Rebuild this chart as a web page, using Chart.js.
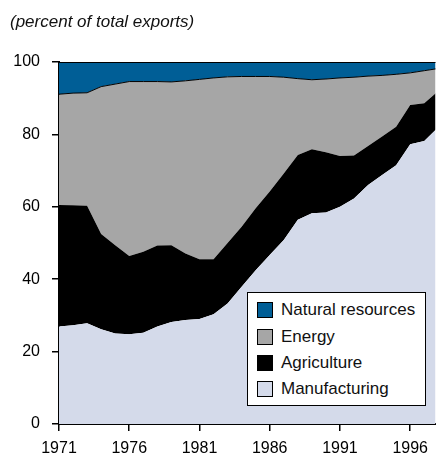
<!DOCTYPE html>
<html>
<head>
<meta charset="utf-8">
<script src="https://cdn.jsdelivr.net/npm/chart.js@4.4.1/dist/chart.umd.min.js"></script>
<style>
  html, body { margin: 0; padding: 0; background: #fff; overflow: hidden; }
  #wrap { position: relative; width: 436px; height: 454px; }
  #legend {
    position: absolute; left: 247px; top: 292px; width: 177px; height: 112px;
    border: 1px solid #000; background: #fff;
    font-family: "Liberation Sans", Arial, sans-serif; font-size: 17px; color: #111;
  }
  .item { position: absolute; left: 9px; height: 20px; display: flex; align-items: center; white-space: nowrap; }
  .sw { width: 14px; height: 14px; border: 1px solid #000; margin-right: 8px; }
</style>
</head>
<body>
<div id="wrap">
  <canvas id="myChart" width="436" height="454"></canvas>
  <div id="legend"></div>
</div>
<script>
// Shares of total exports, percent
const years = [1971, 1972, 1973, 1974, 1975, 1976, 1977, 1978, 1979, 1980,
               1981, 1982, 1983, 1984, 1985, 1986, 1987, 1988, 1989, 1990,
               1991, 1992, 1993, 1994, 1995, 1996, 1997, 1998];
const manufacturing = [26.9, 27.3, 27.8, 26.2, 25.0, 24.8, 25.2, 26.9, 28.2, 28.7,
                       29.0, 30.3, 33.3, 37.9, 42.5, 46.7, 50.8, 56.4, 58.2, 58.4,
                       60.0, 62.3, 66.0, 68.8, 71.5, 77.3, 78.2, 82.0];
const agriculture = [33.6, 33.1, 32.5, 26.3, 24.4, 21.6, 22.4, 22.4, 21.2, 18.4,
                     16.5, 15.2, 16.7, 16.6, 17.1, 17.5, 18.4, 17.9, 17.7, 16.7,
                     14.0, 11.9, 10.8, 10.6, 10.6, 10.8, 10.4, 10.0];
const energy = [30.6, 31.0, 31.2, 40.7, 44.5, 48.2, 47.0, 45.3, 45.1, 47.7,
                49.7, 50.1, 45.9, 41.5, 36.4, 31.8, 26.6, 21.1, 19.2, 20.2,
                21.6, 21.6, 19.3, 16.9, 14.5, 8.9, 9.0, 6.2];
const naturalResources = [8.9, 8.6, 8.5, 6.8, 6.1, 5.4, 5.4, 5.4, 5.5, 5.2,
                          4.8, 4.4, 4.1, 4.0, 4.0, 4.0, 4.2, 4.6, 4.9, 4.7,
                          4.4, 4.2, 3.9, 3.7, 3.4, 3.0, 2.4, 1.8];
const xTicks = [1971, 1976, 1981, 1986, 1991, 1996];
const yTicks = [0, 20, 40, 60, 80, 100];
const subtitle = '(percent of total exports)';

const FONT = '"Liberation Sans", Arial, sans-serif';
const pts = arr => years.map((yr, i) => ({ x: yr, y: arr[i] }));

const data = {
  datasets: [
    { label: 'Manufacturing', data: pts(manufacturing), backgroundColor: '#d4daea',
      borderWidth: 0, fill: 'origin' },
    { label: 'Agriculture', data: pts(agriculture), backgroundColor: '#000000',
      borderWidth: 0, fill: '-1' },
    { label: 'Energy', data: pts(energy), backgroundColor: '#a6a6a6',
      borderColor: '#000', borderWidth: 1, fill: '-1' },
    { label: 'Natural resources', data: pts(naturalResources), backgroundColor: '#005e96',
      borderColor: '#000', borderWidth: 2, fill: '-1' }
  ]
};

const axisGrid = { drawOnChartArea: false, drawTicks: true, tickLength: 7, color: '#000', lineWidth: 1.5 };
const tickFont = { family: FONT, size: 16 };

const config = {
  type: 'line',
  data: data,
  options: {
    responsive: false,
    animation: false,
    layout: { padding: { left: 10, right: 0, top: 0, bottom: 0 } },
    elements: { point: { radius: 0 }, line: { tension: 0 } },
    plugins: {
      legend: { display: false },
      tooltip: { enabled: false },
      title: {
        display: true, text: subtitle, align: 'start', color: '#111',
        font: { family: FONT, size: 17, style: 'italic', weight: 'normal' },
        padding: { top: 12, bottom: 29.6 }
      }
    },
    scales: {
      x: {
        type: 'linear', min: 1971, max: 1997.8, z: 1,
        grid: axisGrid,
        border: { display: true, color: '#000', width: 2 },
        ticks: { color: '#000', font: tickFont, padding: 8, maxRotation: 0, autoSkip: false,
                 callback: v => String(v) },
        afterBuildTicks: s => { s.ticks = xTicks.map(v => ({ value: v })); },
        afterFit: s => { s.height = 30; }
      },
      y: {
        stacked: true, min: 0, max: 100, z: 1,
        grid: axisGrid,
        border: { display: true, color: '#000', width: 2 },
        ticks: { color: '#000', font: tickFont, padding: 12 },
        afterBuildTicks: s => { s.ticks = yTicks.map(v => ({ value: v })); },
        afterFit: s => { s.width = 49; }
      }
    }
  }
};

const ctx = document.getElementById('myChart').getContext('2d');
const myChart = new Chart(ctx, config);

// legend box inside the plot, top entry first
const legendEl = document.getElementById('legend');
const rowTops = [7, 34, 60, 86];
myChart.data.datasets.slice().reverse().forEach((ds, i) => {
  const item = document.createElement('div');
  item.className = 'item';
  item.style.top = rowTops[i] + 'px';
  const sw = document.createElement('span');
  sw.className = 'sw';
  sw.style.background = ds.backgroundColor;
  item.appendChild(sw);
  item.appendChild(document.createTextNode(ds.label));
  legendEl.appendChild(item);
});
</script>
</body>
</html>
